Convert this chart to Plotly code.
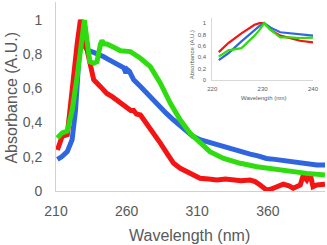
import plotly.graph_objects as go

# Main spectra (wavelength nm, normalized absorbance)
blue_x = [211, 214, 218, 221.4, 223.8, 226, 228, 230.8, 233, 236.7, 240, 243.8, 247, 250.9, 255, 258, 259.5, 260.5, 262, 265, 270, 274.5, 279, 283.9, 288, 293.3, 298, 302.7, 307, 312, 318, 324, 330, 335.7, 341, 347.5, 353, 359, 365, 371, 377, 383, 389, 394.7, 400.5]
blue_y = [0.185, 0.20, 0.23, 0.30, 0.47, 0.73, 1.0, 0.84, 0.82, 0.81, 0.80, 0.785, 0.77, 0.75, 0.735, 0.72, 0.69, 0.71, 0.70, 0.65, 0.61, 0.57, 0.53, 0.49, 0.455, 0.415, 0.38, 0.347, 0.32, 0.30, 0.285, 0.27, 0.255, 0.24, 0.228, 0.216, 0.205, 0.19, 0.185, 0.177, 0.17, 0.162, 0.158, 0.152, 0.152]

red_x = [211, 214.4, 218, 220, 222.6, 225, 227.3, 230.8, 234.4, 236.7, 241.5, 246, 250, 253, 256, 260.3, 263, 265, 267, 269.8, 272, 274.5, 277, 279.2, 283.9, 288.6, 293.3, 298, 302.7, 307.4, 312, 318, 324, 330, 335.7, 341, 347.5, 351, 354.6, 359, 362, 366, 371, 375, 378, 383, 385, 387.6, 390, 392, 394.7, 400.5]
red_y = [0.24, 0.32, 0.33, 0.49, 0.67, 0.86, 1.0, 0.86, 0.73, 0.65, 0.61, 0.57, 0.55, 0.53, 0.51, 0.49, 0.47, 0.47, 0.45, 0.444, 0.42, 0.386, 0.36, 0.337, 0.28, 0.22, 0.162, 0.133, 0.113, 0.10, 0.074, 0.07, 0.064, 0.07, 0.064, 0.06, 0.064, 0.055, 0.035, 0.006, 0.01, 0.025, 0.04, 0.03, 0.016, 0.035, 0.09, 0.064, 0.1, 0.025, 0.035, 0.04]

green_x = [211, 214.4, 218, 221.4, 225, 228.5, 230.1, 232, 233.9, 236.7, 239, 241.5, 242.6, 244, 246, 250.9, 255.6, 262.7, 269.8, 276.8, 283.9, 291, 298, 305, 312, 319, 328.7, 340.5, 352.3, 364, 375.8, 387.6, 400.5]
green_y = [0.31, 0.34, 0.35, 0.47, 0.67, 0.92, 1.0, 0.88, 0.756, 0.747, 0.756, 0.86, 0.88, 0.86, 0.86, 0.84, 0.82, 0.815, 0.776, 0.727, 0.63, 0.513, 0.415, 0.337, 0.28, 0.23, 0.19, 0.162, 0.142, 0.127, 0.113, 0.103, 0.094]

# Inset (zoom on 220-240 nm)
in_x = [221.3, 223.2, 225.8, 227.7, 228.4, 229.4, 230.3, 231.6, 233.5, 235.5, 237.4, 240]
in_red = [0.49, 0.65, 0.82, 0.93, 0.97, 1.0, 1.0, 0.88, 0.78, 0.735, 0.69, 0.66]
in_blue = [0.35, 0.47, 0.68, 0.82, 0.88, 0.95, 1.0, 0.92, 0.84, 0.82, 0.80, 0.78]
in_green = [0.41, 0.52, 0.56, 0.71, 0.78, 0.88, 1.0, 0.88, 0.75, 0.75, 0.735, 0.745]

y_ticks = [0, 0.2, 0.4, 0.6, 0.8, 1]
y_text = ["0", "0,2", "0,4", "0,6", "0,8", "1"]
x_ticks = [210, 260, 310, 360]
in_x_ticks = [220, 230, 240]

BLUE = "#2f66e0"
RED = "#f41414"
GREEN = "#2edc10"
TXT = "#595959"
FONT = "Liberation Sans"

W, H = 327, 245
ML, MR, MT, MB = 55.5, 2, 2, 54
PW, PH = W - ML - MR, H - MT - MB


def px(x):
    return (x - ML) / PW


def py(y):
    return (H - MB - y) / PH


fig = go.Figure()
for x, y, c in [(blue_x, blue_y, BLUE), (red_x, red_y, RED), (green_x, green_y, GREEN)]:
    fig.add_trace(go.Scatter(x=x, y=y, mode="lines", line=dict(color=c, width=5),
                             xaxis="x", yaxis="y", showlegend=False, hoverinfo="skip"))
for y, c in [(in_red, RED), (in_blue, BLUE), (in_green, GREEN)]:
    fig.add_trace(go.Scatter(x=in_x, y=y, mode="lines", line=dict(color=c, width=2.2),
                             xaxis="x2", yaxis="y2", showlegend=False, hoverinfo="skip"))

ax_common = dict(showgrid=False, zeroline=False, showline=True, linewidth=1,
                 ticks="outside", tickcolor="rgba(0,0,0,0)", automargin=False)

fig.update_layout(
    width=W, height=H,
    margin=dict(l=ML, r=MR, t=MT, b=MB),
    paper_bgcolor="white", plot_bgcolor="white",
    font=dict(family=FONT, color=TXT),
    xaxis=dict(range=[210, 400.5], tickvals=x_ticks, linecolor="#d0d0d0", ticklen=7,
               tickfont=dict(size=14, color=TXT), **ax_common),
    yaxis=dict(range=[0, 1.105], tickvals=y_ticks, ticktext=y_text, linecolor="#d0d0d0", ticklen=10,
               tickfont=dict(size=14, color=TXT), **ax_common),
    xaxis2=dict(domain=[px(212), px(313)], anchor="y2", range=[220, 240], tickvals=in_x_ticks,
                linecolor="#d8d8d8", ticklen=3, tickfont=dict(size=6, color=TXT), **ax_common),
    yaxis2=dict(domain=[py(80), py(18)], anchor="x2", range=[0, 1.09], tickvals=y_ticks, ticktext=y_text,
                linecolor="#d8d8d8", ticklen=4, tickfont=dict(size=6, color=TXT), **ax_common),
    annotations=[
        dict(text="Wavelength (nm)", xref="paper", yref="paper", x=px(189), y=py(235),
             showarrow=False, font=dict(size=16, color=TXT), xanchor="center", yanchor="middle"),
        dict(text="Absorbance (A.U.)", xref="paper", yref="paper", x=px(10), y=py(98),
             showarrow=False, textangle=-90, font=dict(size=16, color=TXT), xanchor="center", yanchor="middle"),
        dict(text="Wavelength (nm)", xref="paper", yref="paper", x=px(263), y=py(98),
             showarrow=False, font=dict(size=6, color=TXT), xanchor="center", yanchor="middle"),
        dict(text="Absorbance (A.U.)", xref="paper", yref="paper", x=px(192), y=py(55),
             showarrow=False, textangle=-90, font=dict(size=6, color=TXT), xanchor="center", yanchor="middle"),
    ],
)

fig.write_html("out.html", config={"displayModeBar": False},
               post_script="document.body.style.margin='0';document.body.style.overflow='hidden';")
